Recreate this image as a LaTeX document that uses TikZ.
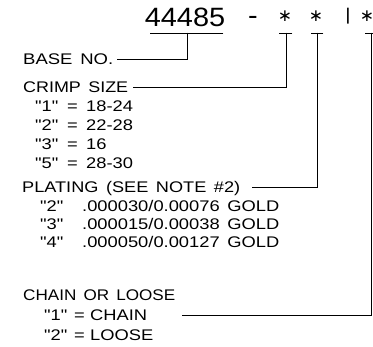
\documentclass[tikz,border=0pt]{standalone}
\usepackage{fontspec}
\usepackage{graphicx}
\setmainfont{Liberation Sans}
\newfontfamily\labfont{Liberation Sans}[FakeStretch=1.19,WordSpace=1.5]
\newfontfamily\headfont{Liberation Sans}[FakeStretch=1.09]
\newfontfamily\symfont{DejaVu Sans}
\newcommand{\fitw}[2]{\resizebox{#1}{\height}{#2}}
\begin{document}
\begin{tikzpicture}[x=1pt,y=-1pt,
  lab/.style={font=\labfont\fontsize{15.4}{18}\selectfont, anchor=base west, inner sep=0pt, text height=11pt, text depth=0pt},
  head/.style={font=\headfont\fontsize{26.5}{30}\selectfont, anchor=base, inner sep=0pt},
  starmark/.style={font=\symfont\fontsize{17}{17}\selectfont, anchor=center, inner sep=0pt},
  conn/.style={line width=0.7pt, line cap=rect}]
\useasboundingbox (0,0) rectangle (373,347);
% header
\node[head] (h) at (185,27) {44485};
\node[head] (dash) at (253,25) {-};
\node[starmark] (s1) at (285,16) {∗};
\node[starmark] (s2) at (316,16) {∗};
\node[font=\labfont\fontsize{17}{20}\selectfont, inner sep=0pt] (bar) at (348,16.5) {|};
\node[starmark] (s3) at (367,16) {∗};
% tick coordinates
\coordinate (ul1) at (150,33);
\coordinate (ul2) at (223,33);
\coordinate (t0) at (187,33);
\coordinate (t1) at (286,33);
\coordinate (t2) at (317,33);
\coordinate (t3) at (371,33);
% labels
\node[lab] (base) at (23,65) {\fitw{90pt}{BASE NO.}};
\node[lab] (crimp) at (23,93) {\fitw{105pt}{CRIMP SIZE}};
\node[lab] (c1) at (35,112) {\makebox[32pt][l]{"1"}\makebox[19pt][l]{=}18-24};
\node[lab] (c2) at (35,131) {\makebox[32pt][l]{"2"}\makebox[19pt][l]{=}22-28};
\node[lab] (c3) at (35,150) {\makebox[32pt][l]{"3"}\makebox[19pt][l]{=}16};
\node[lab] (c5) at (35,169) {\makebox[32pt][l]{"5"}\makebox[19pt][l]{=}28-30};
\node[lab] (plating) at (22,193) {\fitw{218pt}{PLATING (SEE NOTE \#2)}};
\node[lab] (p2) at (40,212) {\makebox[42pt][l]{"2"}.000030/0.00076 GOLD};
\node[lab] (p3) at (40,230) {\makebox[42pt][l]{"3"}.000015/0.00038 GOLD};
\node[lab] (p4) at (40,248) {\makebox[42pt][l]{"4"}.000050/0.00127 GOLD};
\node[lab] (chain) at (23,301) {\fitw{152pt}{CHAIN OR LOOSE}};
\node[lab] (ch1) at (44,321) {\makebox[30pt][l]{"1"}\makebox[16pt][l]{=}CHAIN};
\node[lab] (ch2) at (44,341) {\makebox[30pt][l]{"2"}\makebox[16pt][l]{=}LOOSE};
% connectors
\draw[conn] (ul1) -- (ul2);
\draw[conn,shorten <=4pt] (base.east) -| (t0);
\draw[conn,shorten <=5pt] (crimp.east) -| (t1);
\draw[conn,shorten <=12pt] (plating.east) -| (t2);
\draw[conn,shorten <=35pt] (ch1.east) -| (t3);
\draw[conn] ([xshift=-7pt]t1) -- ([xshift=6pt]t1);
\draw[conn] ([xshift=-6pt]t2) -- ([xshift=6pt]t2);
\draw[conn] ([xshift=-6pt]t3) -- ([xshift=6pt]t3);
\end{tikzpicture}
\end{document}
